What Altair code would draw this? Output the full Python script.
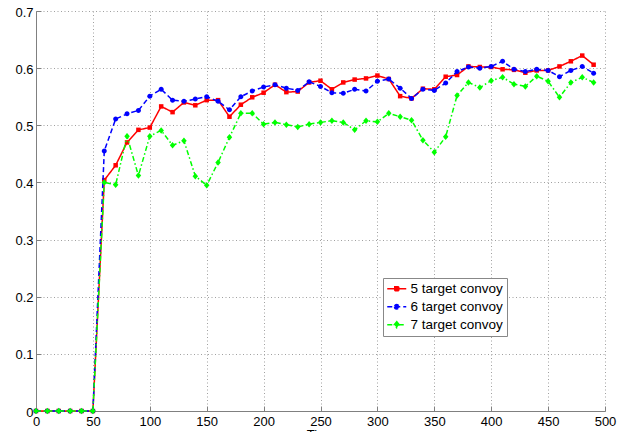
import altair as alt
import pandas as pd

# ---- data ----
x_values = list(range(0, 500, 10))

series_names = ["5 target convoy", "6 target convoy", "7 target convoy"]

red_values = [0, 0, 0, 0, 0, 0,
              0.404, 0.430, 0.470, 0.492, 0.496, 0.533, 0.523, 0.540, 0.535, 0.544,
              0.544, 0.515, 0.536, 0.549, 0.557, 0.571, 0.558, 0.559, 0.575, 0.578,
              0.563, 0.575, 0.580, 0.582, 0.587, 0.581, 0.551, 0.547, 0.564, 0.563,
              0.585, 0.588, 0.603, 0.602, 0.602, 0.598, 0.597, 0.592, 0.596, 0.596,
              0.603, 0.612, 0.622, 0.606]

blue_values = [0, 0, 0, 0, 0, 0,
               0.455, 0.511, 0.520, 0.526, 0.551, 0.563, 0.544, 0.542, 0.546, 0.550,
               0.542, 0.527, 0.550, 0.560, 0.567, 0.571, 0.565, 0.561, 0.576, 0.568,
               0.557, 0.556, 0.563, 0.560, 0.577, 0.581, 0.565, 0.547, 0.563, 0.561,
               0.574, 0.594, 0.602, 0.600, 0.603, 0.612, 0.598, 0.594, 0.598, 0.596,
               0.585, 0.596, 0.603, 0.591]

green_values = [0, 0, 0, 0, 0, 0,
                0.400, 0.396, 0.481, 0.412, 0.481, 0.491, 0.465, 0.473, 0.411, 0.395,
                0.435, 0.479, 0.521, 0.521, 0.502, 0.505, 0.501, 0.497, 0.502, 0.505,
                0.508, 0.505, 0.492, 0.508, 0.506, 0.521, 0.515, 0.509, 0.474, 0.453,
                0.480, 0.552, 0.575, 0.566, 0.578, 0.584, 0.572, 0.568, 0.586, 0.577,
                0.549, 0.575, 0.584, 0.575]

x_ticks = [0, 50, 100, 150, 200, 250, 300, 350, 400, 450, 500]
y_ticks = [0, 0.1, 0.2, 0.3, 0.4, 0.5, 0.6, 0.7]

# ---- styles ----
colors = ["#ff0000", "#0000ff", "#00ff00"]
dashes = [[1, 0], [5, 3], [5, 2.5, 1.5, 2.5]]
marker_paths = [
    "M-0.45,-0.45H0.45V0.45H-0.45Z",
    "M-0.5,0A0.5,0.5,0,1,0,0.5,0A0.5,0.5,0,1,0,-0.5,0Z",
    "M0,-0.65L0.55,0L0,0.65L-0.55,0Z",
]
legend_paths = [
    "M-1.9,0H1.9M-0.4,-0.4H0.4V0.4H-0.4Z",
    "M-1.9,0H1.9M-0.45,0A0.45,0.45,0,1,0,0.45,0A0.45,0.45,0,1,0,-0.45,0Z",
    "M-1.9,0H1.9M0,-0.6L0.5,0L0,0.6L-0.5,0Z",
]

rows = []
for name, vals in zip(series_names, [red_values, blue_values, green_values]):
    for xv, yv in zip(x_values, vals):
        rows.append({"x": xv, "y": yv, "series": name})
df = pd.DataFrame(rows)

FONT = "Liberation Sans"
axis_common = dict(
    labelFont=FONT, labelFontSize=13, labelColor="black",
    domainColor="#808080", domainWidth=1,
    grid=True, gridColor="#a0a0a0", gridDash=[1, 2.5], gridWidth=1,
    ticks=False, labelFlush=False, labelOverlap=False,
)

x_scale = alt.Scale(domain=[0, 500], nice=False, zero=False)
y_scale = alt.Scale(domain=[0, 0.7], nice=False, zero=False)

x_enc = alt.X("x:Q", scale=x_scale,
              axis=alt.Axis(values=x_ticks, format="d", title="Time", orient="bottom",
                            titleFont=FONT, titleFontSize=13, titleFontWeight="normal",
                            titleColor="black", titlePadding=0, labelPadding=4,
                            **axis_common))
y_enc = alt.Y("y:Q", scale=y_scale,
              axis=alt.Axis(values=y_ticks, format="~g", title=None, labelPadding=3,
                            orient="left", labelOffset=1, **axis_common))

# inward-pointing tick marks (MATLAB style): tick-only axes shifted into the plot
tick_axis = dict(domain=False, labels=False, grid=False, ticks=True, tickSize=5,
                 tickColor="#808080", tickWidth=1, offset=-5, title=None)
x_tick_enc = alt.X("x:Q", scale=x_scale,
                   axis=alt.Axis(values=x_ticks, orient="bottom", **tick_axis))
y_tick_enc = alt.Y("y:Q", scale=y_scale,
                   axis=alt.Axis(values=y_ticks, orient="left", **tick_axis))

color_scale = alt.Scale(domain=series_names, range=colors)
dash_scale = alt.Scale(domain=series_names, range=dashes)
shape_scale = alt.Scale(domain=series_names, range=legend_paths)

base = alt.Chart(df).encode(x=x_enc, y=y_enc)

plot_layers = []
for name, col, dash, path in zip(series_names, colors, dashes, marker_paths):
    line = base.mark_line(strokeWidth=1.5, color=col, strokeDash=dash).transform_filter(
        alt.datum.series == name)
    pts = base.mark_point(filled=True, size=100, opacity=1, shape=path, color=col).transform_filter(
        alt.datum.series == name)
    plot_layers += [line, pts]

plot = alt.layer(*plot_layers)

leg = dict(
    title=None, orient="none", legendX=347, legendY=267,
    fillColor="white", strokeColor="#888888", padding=4,
    symbolSize=100, symbolStrokeWidth=1.5, symbolOffset=3,
    labelFont=FONT, labelFontSize=13.5, labelColor="black", labelOffset=7,
    rowPadding=3,
)

legend_layer = alt.Chart(df).mark_point(filled=True, size=100, opacity=1, strokeWidth=1.5).encode(
    x=x_tick_enc, y=y_tick_enc,
    fill=alt.Fill("series:N", scale=color_scale, legend=alt.Legend(**leg)),
    stroke=alt.Stroke("series:N", scale=color_scale, legend=alt.Legend(**leg)),
    shape=alt.Shape("series:N", scale=shape_scale, legend=alt.Legend(**leg)),
    strokeDash=alt.StrokeDash("series:N", scale=dash_scale, legend=alt.Legend(**leg)),
).transform_filter(alt.datum.x < 0)

chart = alt.layer(plot, legend_layer).resolve_axis(x="independent", y="independent").properties(
    width=569, height=400,
    padding={"left": 28, "top": 3, "right": 20, "bottom": 30},
    autosize=alt.AutoSizeParams(type="none"),
    background="white",
).configure_view(stroke=None)

chart.save("out.html", embed_options={"renderer": "svg", "actions": False})
